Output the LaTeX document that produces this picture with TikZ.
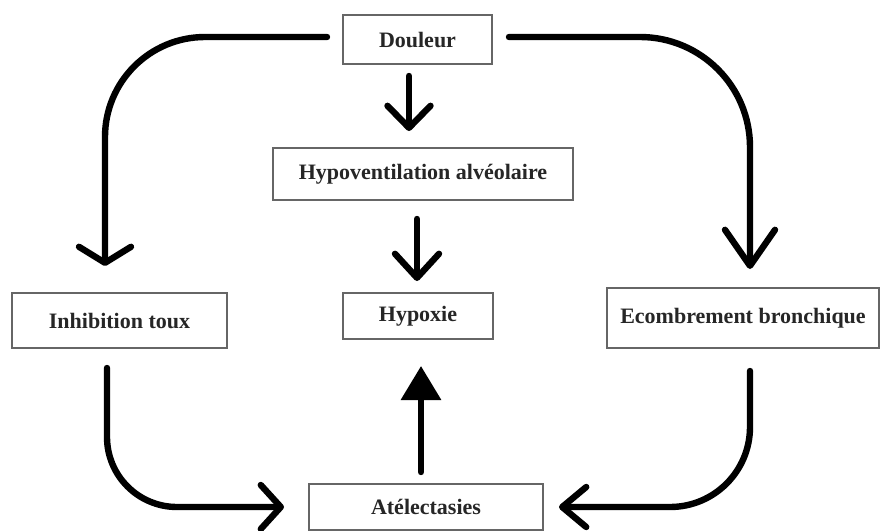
\documentclass[tikz,border=0pt]{standalone}
\usepackage{fontspec}
\setmainfont{Liberation Serif}
\usetikzlibrary{arrows.meta,positioning}

\begin{document}
\begin{tikzpicture}[x=0.5pt,y=-0.5pt,on grid,
  box/.style={draw=black!60,line width=1pt,fill=white,inner sep=0pt,
    text=black!85,font=\fontsize{11}{13}\selectfont\bfseries}]
  \useasboundingbox (0,0) rectangle (880,531);
  \node[box,minimum width=74.5pt,minimum height=24.5pt] (D) at (417.5,39.5) {Douleur};
  \node[box,minimum width=150pt,minimum height=26pt]   (H) [below right=67.25pt and 2.75pt of D] {Hypoventilation alvéolaire};
  \node[box,minimum width=75pt,minimum height=23pt]    (X) [below left=71pt and 2.5pt of H]     {Hypoxie};
  \node[box,minimum width=117pt,minimum height=23pt]   (A) [below right=95.5pt and 4pt of X]    {Atélectasies};
  \node[box,minimum width=107.5pt,minimum height=27.5pt] (I) [below left=2.25pt and 149.25pt of X] {Inhibition toux};
  \node[box,minimum width=136pt,minimum height=30pt]   (E) [below right=1pt and 162.5pt of X]   {Ecombrement bronchique};
\tikzset{flow/.style={line width=3.2pt,line cap=round}}
\path ([xshift=-4.25pt]D.south) edge [flow,shorten <=5.5pt,shorten >=8pt,
        -{Straight Barb[length=11pt,width=21.5pt,round]}] ([xshift=-7pt]H.north)
      ([xshift=-3pt]H.south)    edge [flow,shorten <=9pt,shorten >=5.5pt,
        -{Straight Barb[length=12pt,width=22pt,round]}]   ([xshift=-0.5pt]X.north)
      ([xshift=-2.5pt]A.north)  edge [flow,shorten <=5.5pt,shorten >=13pt,
        -{Triangle[length=17pt,width=19.5pt]}]            ([xshift=1.5pt]X.south);
\tikzset{flow/.style={line width=3.2pt,line cap=round,rounded corners=#1,to path={-| (\tikztotarget)}}}
\path ([yshift=1.25pt]D.west) edge [flow=50pt,shorten <=7.5pt,shorten >=13pt,
        -{Straight Barb[length=8pt,width=26pt,round]}]  ([xshift=-7.25pt]I.north)
      ([yshift=1.25pt]D.east) edge [flow=55pt,shorten <=8pt,shorten >=9pt,
        -{Straight Barb[length=18pt,width=25pt,round]}] ([xshift=3.5pt]E.north);
\tikzset{flow/.style={line width=3.2pt,line cap=round,rounded corners=#1,to path={|- (\tikztotarget)}}}
\path ([xshift=-6.25pt]I.south) edge [flow=35pt,shorten <=9.5pt,shorten >=12pt,
        -{Straight Barb[length=10pt,width=22pt,round]}] (A.west)
      ([xshift=3.5pt]E.south)   edge [flow=40pt,shorten <=11pt,shorten >=7.5pt,
        -{Straight Barb[length=12pt,width=20pt,round]}] (A.east);
\end{tikzpicture}
\end{document}
